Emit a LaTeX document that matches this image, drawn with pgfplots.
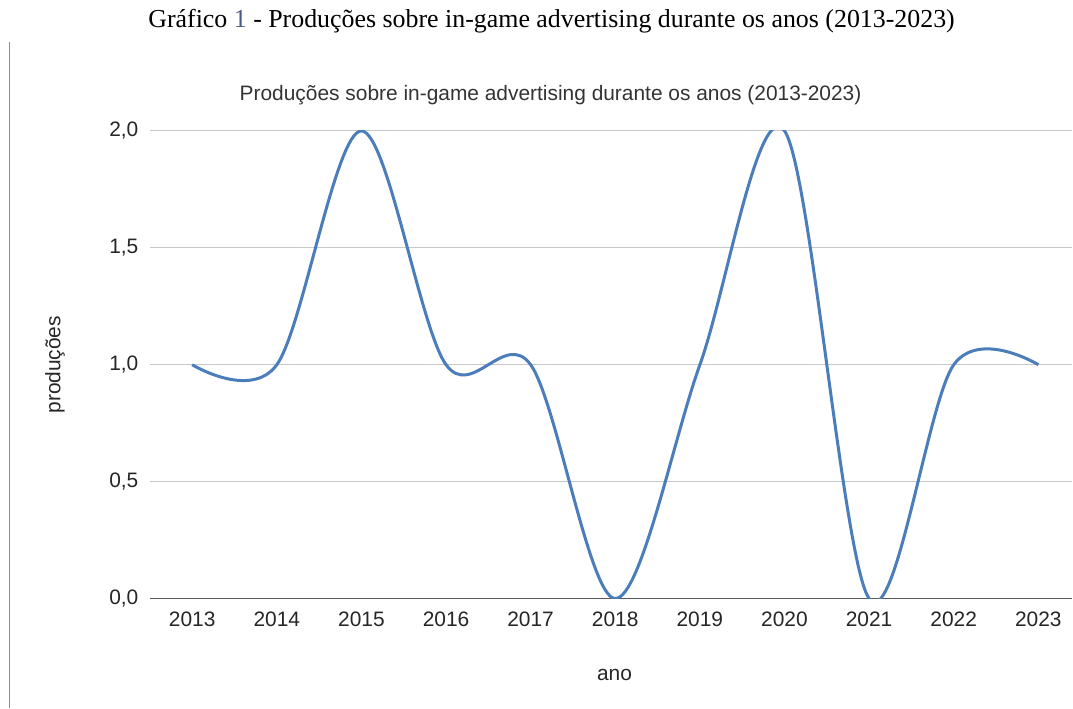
\documentclass[border=0pt]{standalone}
\usepackage{fontspec}
\setmainfont{Liberation Serif}
\newfontfamily\arial{Liberation Sans}
\usepackage{pgfplots}
\pgfplotsset{compat=1.18}
\definecolor{linecol}{HTML}{4C7DBB}
\definecolor{capnum}{HTML}{4A5A86}
\begin{document}
\begin{tikzpicture}[x=1bp,y=1bp]
\begin{axis}[
  name=ax,
  scale only axis,
  width=923bp, height=468bp,
  xmin=2012.5, xmax=2023.4,
  ymin=0, ymax=2,
  axis x line=bottom,
  axis y line=left,
  x axis line style={-, draw=black!65, line width=1.6bp},
  y axis line style={-, draw=none},
  xtick={2013,...,2023},
  xticklabels={2013,2014,2015,2016,2017,2018,2019,2020,2021,2022,2023},
  ytick={0,0.5,1,1.5,2},
  ymajorgrids,
  grid style={draw=black!22, line width=1bp},
  major tick length=0pt,
  tick style={draw=none},
  /pgf/number format/assume math mode=true,
  ticklabel style={font=\arial\fontsize{21}{21}\selectfont, text=black!85},
  xticklabel style={yshift=-10bp},
  yticklabel style={xshift=-8bp, /pgf/number format/fixed, /pgf/number format/fixed zerofill, /pgf/number format/precision=1, /pgf/number format/use comma},
]
\addplot[color=linecol, line width=3bp, smooth, tension=0.55] coordinates {
  (2013,1) (2014,1) (2015,2) (2016,1) (2017,1) (2018,0)
  (2019,1) (2020,2) (2021,0) (2022,1) (2023,1)
};
\end{axis}
% bounding box 1073 x 709 (axis box from x=150..1073, y=131..599 in image px)
\path[use as bounding box] ([xshift=-150bp,yshift=-110bp]ax.south west) rectangle ([yshift=131bp]ax.north east);
% left rule
\draw[draw=black!45, line width=1bp] ([xshift=-140bp,yshift=89bp]ax.north west) -- ([xshift=-140bp,yshift=-110bp]ax.south west);
% caption
\node[font=\fontsize{26}{26}\selectfont, text=black, anchor=center] at ([xshift=402bp,yshift=110bp]ax.north west) {Gráfico {\color{capnum}1} - Produções sobre in-game advertising durante os anos (2013-2023)};
% chart title
\node[font=\arial\fontsize{21}{21}\selectfont, text=black!80, anchor=center] at ([xshift=401bp,yshift=36bp]ax.north west) {Produções sobre in-game advertising durante os anos (2013-2023)};
% y label
\node[font=\arial\fontsize{21}{21}\selectfont, text=black!85, rotate=90, anchor=center] at ([xshift=-95bp]ax.west) {produções};
% x label
\node[font=\arial\fontsize{21}{21}\selectfont, text=black!85, anchor=center] at ([xshift=465bp,yshift=-76bp]ax.south west) {ano};
\end{tikzpicture}
\end{document}
